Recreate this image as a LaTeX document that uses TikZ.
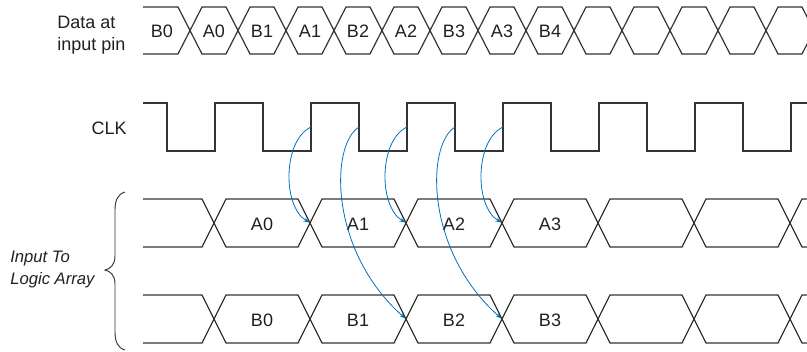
\documentclass[tikz,border=0pt]{standalone}
\usepackage{fontspec}
\setmainfont{Liberation Sans}
\usetikzlibrary{arrows.meta}
\definecolor{wavegray}{RGB}{51,51,51}
\definecolor{arrowblue}{RGB}{0,114,188}
\definecolor{txtcol}{RGB}{35,31,32}
\begin{document}
\begin{tikzpicture}[x=0.75pt,y=-0.75pt,
  wave/.style={draw=wavegray,line width=0.9pt,line join=miter},
  bracestyle/.style={draw=wavegray,line width=0.7pt},
  lbl/.style={inner sep=0pt,text=txtcol,font=\fontsize{13.5}{16.5}\selectfont},
  side/.style={inner sep=0pt,text=txtcol,align=left,font=\fontsize{13.5}{16.5}\selectfont},
  sideit/.style={inner sep=0pt,text=txtcol,align=left,font=\fontsize{12.5}{16.5}\selectfont\itshape},
  flow/.style={draw=arrowblue,line width=0.6pt,-{Stealth[length=4.5pt,width=3pt]},shorten >=0.5pt},
]
\useasboundingbox (0,0) rectangle (807,351);
\begin{scope}
\clip (0,0) rectangle (807,351);
% Data at input pin
\draw[wave] (143,7) \foreach \k in {0,2,...,12} {
  -- ({178+48*\k},7) -- ({202+48*\k},54) -- ({226+48*\k},54) -- ({250+48*\k},7) };
\draw[wave] (143,54) \foreach \k in {0,2,...,12} {
  -- ({178+48*\k},54) -- ({202+48*\k},7) -- ({226+48*\k},7) -- ({250+48*\k},54) };
% CLK
\draw[wave] (143,103) \foreach \k in {0,...,6} {
  -- ({167+96*\k},103) -- ({167+96*\k},151) -- ({215+96*\k},151) -- ({215+96*\k},103) } -- (810,103);
% A row
\draw[wave] (143,199) \foreach \k in {0,2,4,6} {
  -- ({202+96*\k},199) -- ({226+96*\k},247) -- ({298+96*\k},247) -- ({322+96*\k},199) };
\draw[wave] (143,247) \foreach \k in {0,2,4,6} {
  -- ({202+96*\k},247) -- ({226+96*\k},199) -- ({298+96*\k},199) -- ({322+96*\k},247) };
% B row
\draw[wave] (143,295) \foreach \k in {0,2,4,6} {
  -- ({202+96*\k},295) -- ({226+96*\k},343) -- ({298+96*\k},343) -- ({322+96*\k},295) };
\draw[wave] (143,343) \foreach \k in {0,2,4,6} {
  -- ({202+96*\k},343) -- ({226+96*\k},295) -- ({298+96*\k},295) -- ({322+96*\k},343) };
\end{scope}

% side labels
\node[side,anchor=west] (datalbl) at (57,35) {Data at\\input pin};
\node[lbl,anchor=east] (clklbl) at (127,128) {CLK};
\node[sideit,anchor=west] (arraylbl) at (10,269) {Input To\\Logic Array};

% brace
\draw[bracestyle] (125,192) .. controls (118,194) and (115,200) .. (115,210) -- (115,256)
  .. controls (115,265) and (110,269) .. (105,270)
  .. controls (110,271) and (115,275) .. (115,284) -- (115,332)
  .. controls (115,342) and (118,348) .. (125,350);

% data labels
\node[lbl] (d0) at (162,31) {B0};
\node[lbl] (d1) at (214,31) {A0};
\node[lbl] (d2) at (262,31) {B1};
\node[lbl] (d3) at (310,31) {A1};
\node[lbl] (d4) at (358,31) {B2};
\node[lbl] (d5) at (406,31) {A2};
\node[lbl] (d6) at (454,31) {B3};
\node[lbl] (d7) at (502,31) {A3};
\node[lbl] (d8) at (550,31) {B4};

% A row labels
\node[lbl] (a0) at (262,224) {A0};
\node[lbl] (a1) at (358,224) {A1};
\node[lbl] (a2) at (454,224) {A2};
\node[lbl] (a3) at (550,224) {A3};
% B row labels
\node[lbl] (b0) at (262,320) {B0};
\node[lbl] (b1) at (358,320) {B1};
\node[lbl] (b2) at (454,320) {B2};
\node[lbl] (b3) at (550,320) {B3};

% clock edge points
\coordinate (r1) at (311,127);
\coordinate (f2) at (359,127);
\coordinate (r2) at (407,127);
\coordinate (f3) at (455,127);
\coordinate (r3) at (503,127);
% crossing points
\coordinate (ca1) at (310,223);
\coordinate (ca2) at (406,223);
\coordinate (ca3) at (502,223);
\coordinate (cb2) at (406,319);
\coordinate (cb3) at (502,319);

% arrows
\draw[flow] (r1) .. controls +(-28,13) and +(-28,-17) .. (ca1);
\draw[flow] (r2) .. controls +(-28,13) and +(-28,-17) .. (ca2);
\draw[flow] (r3) .. controls +(-28,13) and +(-28,-17) .. (ca3);
\draw[flow] (f2) .. controls +(-29,18) and +(-77,-68) .. (cb2);
\draw[flow] (f3) .. controls +(-29,18) and +(-77,-68) .. (cb3);
\end{tikzpicture}
\end{document}
